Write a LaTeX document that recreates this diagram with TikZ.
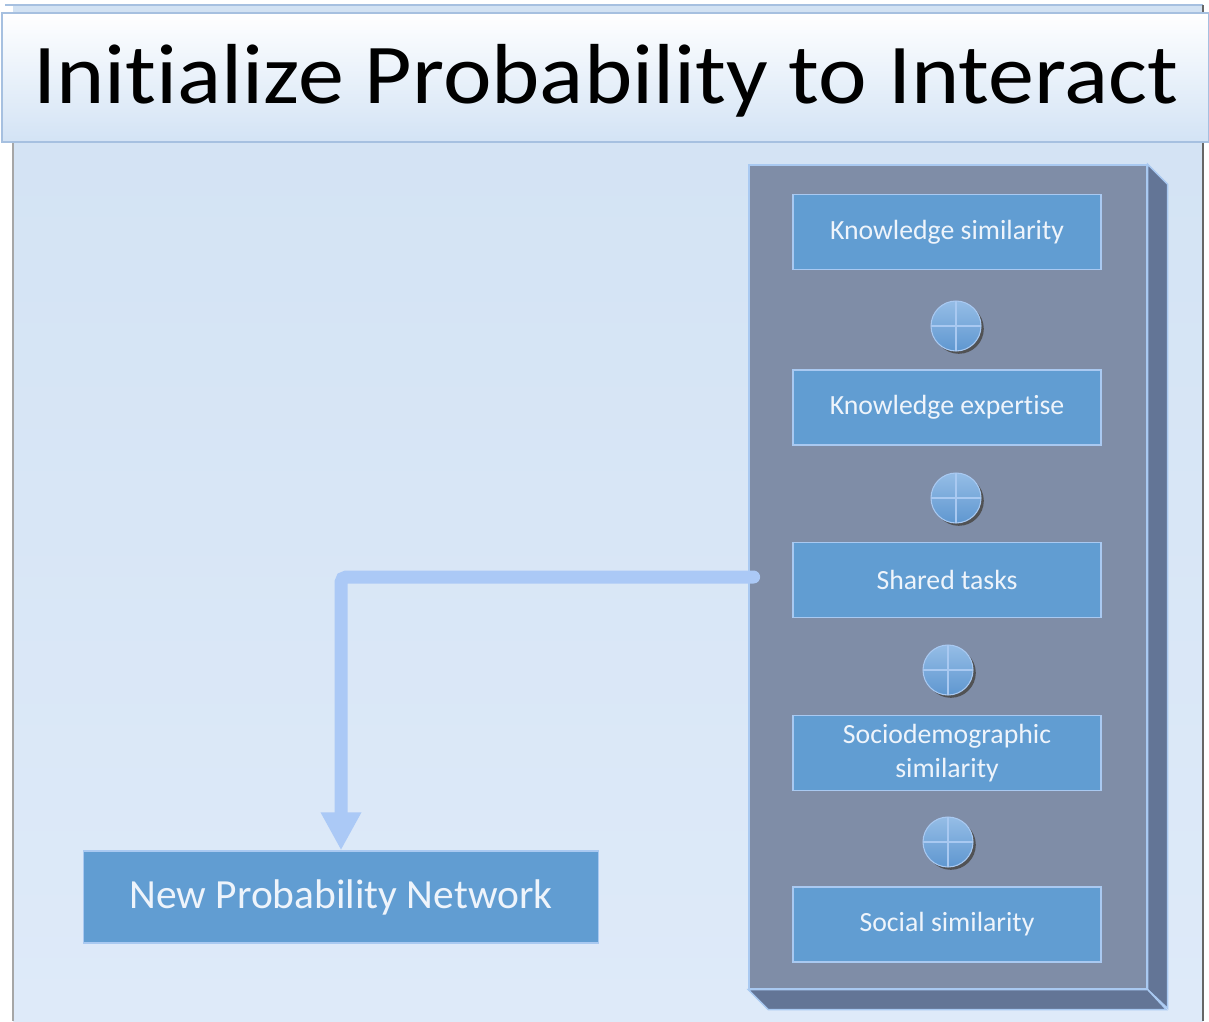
\documentclass[tikz,border=0pt]{standalone}
\usepackage{fontspec}
\setmainfont{Carlito}[Ligatures=NoCommon]
\usetikzlibrary{positioning, calc, shadows, arrows.meta}
\definecolor{slidetop}{HTML}{D2E2F3}
\definecolor{slidebot}{HTML}{DEEAF9}
\definecolor{titlebot}{HTML}{D3E3F5}
\definecolor{titleline}{HTML}{A6C0E0}
\definecolor{panelfront}{HTML}{7F8DA7}
\definecolor{panelside}{HTML}{637596}
\definecolor{boxfill}{HTML}{619DD2}
\definecolor{boxline}{HTML}{A9C9F1}
\definecolor{boxtext}{HTML}{EEF4FB}
\definecolor{linkblue}{HTML}{ABC9F6}
\definecolor{plustop}{HTML}{95BDE6}
\definecolor{plusbot}{HTML}{5F97D0}
\tikzset{
    factor/.style={rectangle, draw=boxline, fill=boxfill, line width=0.8pt,
        minimum width=6.16cm, minimum height=1.5cm, text=boxtext,
        font=\fontsize{15.8}{19}\selectfont, align=center, inner sep=0pt},
    result/.style={factor, minimum width=10.3cm, minimum height=1.84cm,
        font=\fontsize{23.6}{26}\selectfont},
    plus/.style={circle, draw=boxline, line width=0.6pt, minimum size=1cm,
        top color=plustop, bottom color=plusbot,
        drop shadow={shadow xshift=1.6pt, shadow yshift=-1.6pt, opacity=0.9, fill=black!70},
        path picture={
            \draw[boxline, line width=0.8pt] (path picture bounding box.north) -- (path picture bounding box.south);
            \draw[boxline, line width=0.8pt] (path picture bounding box.west) -- (path picture bounding box.east);
        }},
    panelbox/.style={rectangle, draw=boxline, fill=panelfront, line width=0.8pt,
        minimum width=7.96cm, minimum height=16.48cm, inner sep=0pt},
    link/.style={draw=linkblue, line width=7.4pt, line cap=round, rounded corners=3pt,
        -{Triangle[length=0.76cm, width=0.76cm]}},
}

\begin{document}
\begin{tikzpicture}[x=0.02cm, y=-0.02cm]
    \useasboundingbox (0,0) rectangle (1209,1021);

    % slide and title bar
    \shade[top color=slidetop, bottom color=slidebot] (13,5) rectangle (1203,1021);
    \draw[titleline, line width=0.6pt] (5,5) -- (1203,5);
    \draw[black!35, line width=0.6pt] (13,142) -- (13,1021);
    \draw[black!60, line width=1.6pt] (1203,5) -- (1203,1021);
    \shade[top color=white, bottom color=titlebot, draw=titleline, line width=0.6pt]
        (2,13) rectangle (1209,142);
    \node[anchor=base, inner sep=0pt, xscale=1.08, font=\fontsize{48.5}{52}\selectfont] (title) at (606,103)
        {Initialize Probability to Interact};

    % 3d panel
    \node[panelbox] (panel) at (948,577) {};
    \filldraw[fill=panelside, draw=boxline, line width=0.8pt]
        (panel.north east) -- ++(20,20) -- ++(0,824) -- (panel.south east) -- cycle;
    \filldraw[fill=panelside, draw=boxline, line width=0.8pt]
        (panel.south west) -- ++(20,20) -- ++(398,0) -- (panel.south east) -- cycle;

    \node[factor] (ks) at (947,232) {Knowledge similarity};
    \node[factor, below=1.98cm of ks] (ke) {Knowledge expertise};
    \node[factor, below=1.92cm of ke] (st) {Shared tasks};
    \node[factor, below=1.94cm of st] (sd) {Sociodemographic\\similarity};
    \node[factor, below=1.9cm of sd] (ss) {Social similarity};

    \node[plus] (p1) at (956,326) {};
    \node[plus] (p2) at (956,498) {};
    \node[plus] (p3) at (948,670) {};
    \node[plus] (p4) at (948,842) {};

    \node[result] (npn) at (341,897) {New Probability Network};

    \draw[link] ([xshift=3pt]panel.west) -| (npn.north);
\end{tikzpicture}
\end{document}
